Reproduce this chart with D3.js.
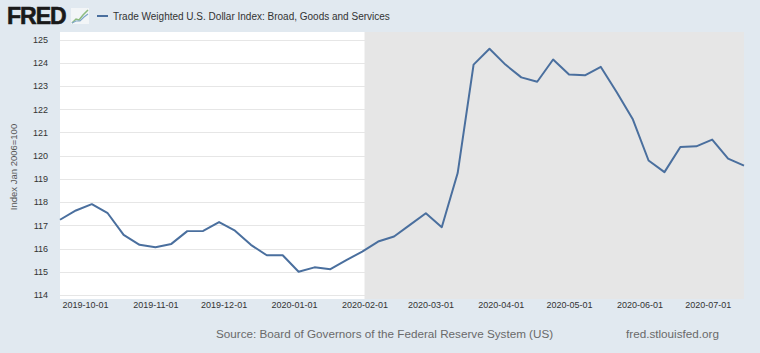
<!DOCTYPE html>
<html>
<head>
<meta charset="utf-8">
<script src="https://cdn.jsdelivr.net/npm/d3@7"></script>
<style>
  body { margin: 0; background: #e1e9f0; font-family: "Liberation Sans", Arial, sans-serif; }
  svg { display: block; }
</style>
</head>
<body>
<div id="chart"></div>
<script>
// weekly observations (week ending Friday)
var dates = ["2019-09-20", "2019-09-27", "2019-10-04", "2019-10-11", "2019-10-18", "2019-10-25",
  "2019-11-01", "2019-11-08", "2019-11-15", "2019-11-22", "2019-11-29",
  "2019-12-06", "2019-12-13", "2019-12-20", "2019-12-27",
  "2020-01-03", "2020-01-10", "2020-01-17", "2020-01-24", "2020-01-31",
  "2020-02-07", "2020-02-14", "2020-02-21", "2020-02-28",
  "2020-03-06", "2020-03-13", "2020-03-20", "2020-03-27",
  "2020-04-03", "2020-04-10", "2020-04-17", "2020-04-24",
  "2020-05-01", "2020-05-08", "2020-05-15", "2020-05-22", "2020-05-29",
  "2020-06-05", "2020-06-12", "2020-06-19", "2020-06-26",
  "2020-07-03", "2020-07-10", "2020-07-17"];
var values = [117.24, 117.64, 117.91, 117.52, 116.59, 116.16,
  116.06, 116.20, 116.75, 116.76, 117.14,
  116.77, 116.16, 115.71, 115.71,
  115.00, 115.19, 115.11, 115.50, 115.87,
  116.30, 116.52, 117.02, 117.52,
  116.92, 119.25, 123.92, 124.60,
  123.92, 123.37, 123.18, 124.14,
  123.49, 123.46, 123.82, 122.73, 121.58,
  119.79, 119.29, 120.37, 120.40,
  120.69, 119.87, 119.57];
var yTicks = [114, 115, 116, 117, 118, 119, 120, 121, 122, 123, 124, 125];
var xTicks = ["2019-10-01", "2019-11-01", "2019-12-01", "2020-01-01", "2020-02-01",
  "2020-03-01", "2020-04-01", "2020-05-01", "2020-06-01", "2020-07-01"];
var shadeStart = "2020-02-01";

var W = 760, H = 353;
var plot = { left: 60, right: 744, top: 32, bottom: 299 };

var parse = d3.timeParse("%Y-%m-%d");
var data = dates.map(function(d, i) { return { date: parse(d), value: values[i] }; });

var x = d3.scaleTime()
    .domain([data[0].date, data[data.length - 1].date])
    .range([plot.left, plot.right]);
var y = d3.scaleLinear()
    .domain([114, 125])
    .range([295, 39.5]);

var svg = d3.select("#chart").append("svg")
    .attr("width", W)
    .attr("height", H);

// plot background
svg.append("rect")
    .attr("x", plot.left)
    .attr("y", plot.top)
    .attr("width", plot.right - plot.left)
    .attr("height", plot.bottom - plot.top)
    .style("fill", "#ffffff");

// shaded period
svg.append("rect")
    .attr("x", x(parse(shadeStart)))
    .attr("y", plot.top)
    .attr("width", plot.right - x(parse(shadeStart)))
    .attr("height", plot.bottom - plot.top)
    .style("fill", "#e6e6e6");

// grid lines
svg.append("g")
    .selectAll("line")
    .data(yTicks)
    .enter().append("line")
    .attr("x1", plot.left)
    .attr("x2", plot.right)
    .attr("y1", function(d) { return Math.round(y(d)) + 0.5; })
    .attr("y2", function(d) { return Math.round(y(d)) + 0.5; })
    .style("stroke", "#e6e6e6")
    .style("stroke-width", 1);

// y axis labels
var yAxis = svg.append("g")
    .attr("transform", "translate(" + (plot.left - 12) + ",0)")
    .call(d3.axisLeft(y).tickValues(yTicks).tickSize(0).tickPadding(0));
yAxis.select(".domain").remove();
yAxis.selectAll("text")
    .style("font-family", "Liberation Sans, Arial, sans-serif")
    .style("font-size", "9px")
    .style("fill", "#333333");

// x axis labels
var xAxis = svg.append("g")
    .attr("transform", "translate(0," + (plot.bottom + 1) + ")")
    .call(d3.axisBottom(x)
        .tickValues(xTicks.map(parse))
        .tickFormat(d3.timeFormat("%Y-%m-%d"))
        .tickSize(0)
        .tickPadding(2));
xAxis.select(".domain").remove();
xAxis.selectAll("text")
    .style("font-family", "Liberation Sans, Arial, sans-serif")
    .style("font-size", "9px")
    .style("fill", "#333333");

// y axis title
svg.append("text")
    .attr("text-anchor", "middle")
    .attr("transform", "translate(17,167)rotate(-90)")
    .style("font-size", "9.5px")
    .style("fill", "#555555")
    .text("Index Jan 2006=100");

// the series
var line = d3.line()
    .x(function(d) { return x(d.date); })
    .y(function(d) { return y(d.value); });

svg.append("path")
    .datum(data)
    .attr("d", line)
    .style("fill", "none")
    .style("stroke", "#4a6f9e")
    .style("stroke-width", 2)
    .style("stroke-linejoin", "round");

// FRED logo
svg.append("text")
    .attr("x", 7)
    .attr("y", 24)
    .style("font-size", "23px")
    .style("font-weight", "bold")
    .style("letter-spacing", "-1px")
    .style("stroke", "#1a1a1a")
    .style("stroke-width", 0.6)
    .style("fill", "#1a1a1a")
    .text("FRED");

// little graph icon next to the logo
var icon = svg.append("g").attr("transform", "translate(71,8)");
icon.append("rect")
    .attr("width", 18).attr("height", 16)
    .style("fill", "#f2f5f7");
icon.append("polyline")
    .attr("points", "1,15 5,11 8,12 12,7 17,2")
    .style("fill", "none").style("stroke", "#8dbb7f").style("stroke-width", 1.5);
icon.append("polyline")
    .attr("points", "1,15 5,13 9,13 13,9 17,6")
    .style("fill", "none").style("stroke", "#7fa6c9").style("stroke-width", 1.2);

// legend
svg.append("line")
    .attr("x1", 97).attr("x2", 108)
    .attr("y1", 16).attr("y2", 16)
    .style("stroke", "#4a6f9e")
    .style("stroke-width", 2);
svg.append("text")
    .attr("x", 113)
    .attr("y", 19.5)
    .style("font-size", "10px")
    .style("fill", "#333333")
    .text("Trade Weighted U.S. Dollar Index: Broad, Goods and Services");

// footer
svg.append("text")
    .attr("x", 216)
    .attr("y", 338)
    .style("font-size", "11.7px")
    .style("fill", "#6a6a6a")
    .text("Source: Board of Governors of the Federal Reserve System (US)");
svg.append("text")
    .attr("x", 626)
    .attr("y", 338)
    .style("font-size", "11.7px")
    .style("fill", "#6a6a6a")
    .text("fred.stlouisfed.org");
</script>
</body>
</html>
